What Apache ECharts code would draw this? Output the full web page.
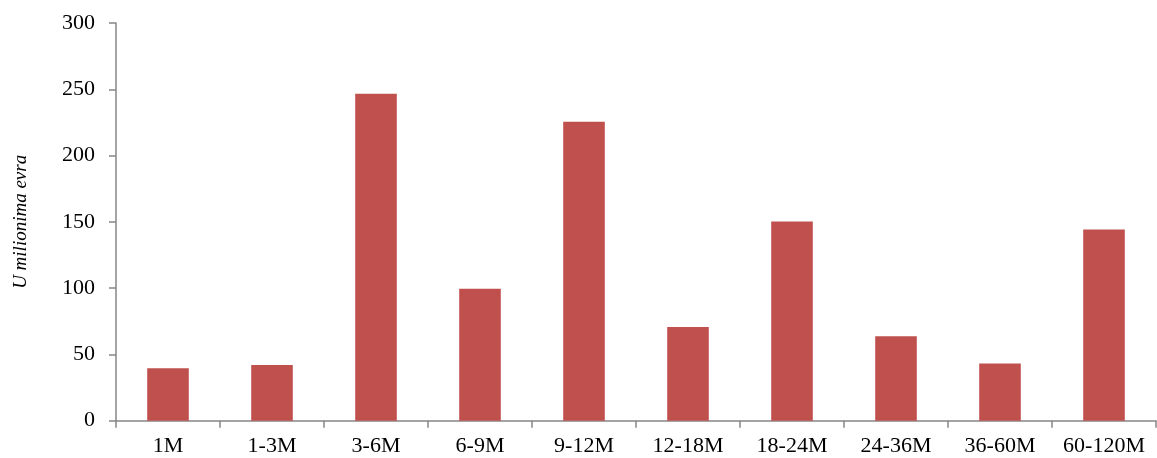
<!DOCTYPE html>
<html><head><meta charset="utf-8">
<script src="https://cdn.jsdelivr.net/npm/echarts@6/dist/echarts.min.js"></script>
<style>html,body{margin:0;padding:0;background:#fff}#c{width:1157px;height:458px}</style>
</head><body><div id="c"></div>
<script>
const categories = ['1M','1-3M','3-6M','6-9M','9-12M','12-18M','18-24M','24-36M','36-60M','60-120M'];
const values = [39.6, 42, 246.6, 99.5, 225.5, 70.7, 150.3, 63.7, 43.2, 144.3];
const yTicks = {min: 0, max: 300, interval: 50};
const yName = 'U milionima evra';

const chart = echarts.init(document.getElementById('c'));
const font = 'Liberation Serif, Times New Roman, serif';
chart.setOption({
  animation: false,
  grid: {left: 116, right: 1, top: 23, bottom: 37.3, containLabel: false},
  xAxis: {
    type: 'category', data: categories,
    axisLine: {lineStyle: {color: '#868686', width: 1.5}},
    axisTick: {show: true, interval: 0, alignWithLabel: false, length: 7, lineStyle: {color: '#868686', width: 1.5}},
    axisLabel: {interval: 0, color: '#000', fontFamily: font, fontSize: 22, margin: 15}
  },
  yAxis: {
    type: 'value', min: yTicks.min, max: yTicks.max, interval: yTicks.interval,
    name: yName, nameLocation: 'middle', nameGap: 86, nameRotate: 90,
    nameTextStyle: {color: '#000', fontFamily: font, fontSize: 19, fontStyle: 'italic'},
    axisLine: {show: true, lineStyle: {color: '#868686', width: 1.5}},
    axisTick: {show: true, length: 7, lineStyle: {color: '#868686', width: 1.5}},
    splitLine: {show: false},
    axisLabel: {color: '#000', fontFamily: font, fontSize: 22, margin: 21}
  },
  series: [{
    type: 'bar', data: values, barWidth: '40%',
    itemStyle: {color: '#C0504D'}
  }]
});
</script></body></html>
